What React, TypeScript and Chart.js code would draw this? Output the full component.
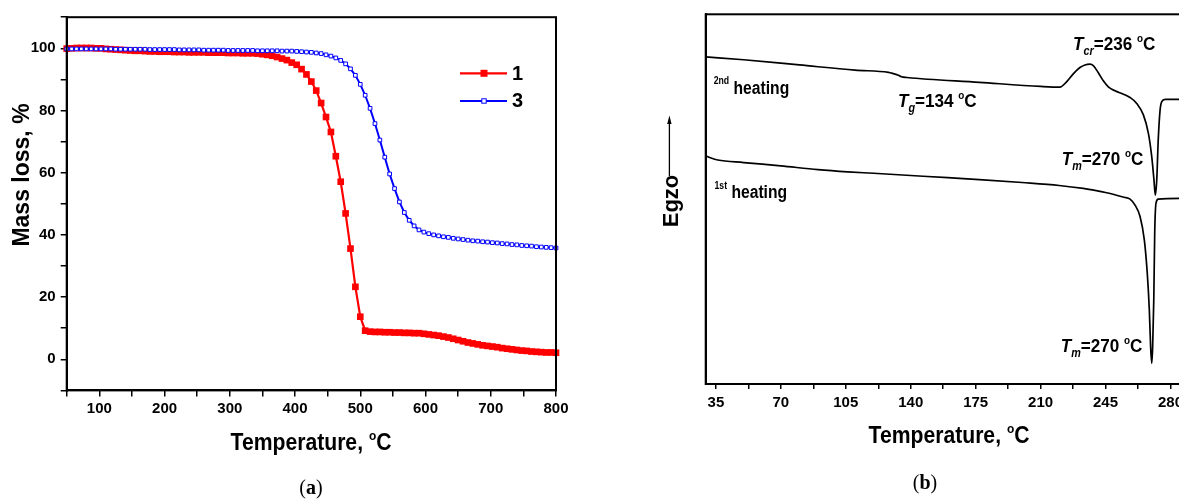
import React, { useEffect, useRef } from "react";
import { Chart, registerables } from "chart.js";
Chart.register(...registerables);

// ---------- Panel (a): TGA ----------
const tgaTemps = [
  50, 57.5, 65, 72.5, 80, 87.5, 95, 102.5, 110, 117.5,
  125, 132.5, 140, 147.5, 155, 162.5, 170, 177.5, 185, 192.5,
  200, 207.5, 215, 222.5, 230, 237.5, 245, 252.5, 260, 267.5,
  275, 282.5, 290, 297.5, 305, 312.5, 320, 327.5, 335, 342.5,
  350, 357.5, 365, 372.5, 380, 387.5, 395, 402.5, 410, 417.5,
  425, 432.5, 440, 447.5, 455, 462.5, 470, 477.5, 485, 492.5,
  500, 507.5, 515, 522.5, 530, 537.5, 545, 552.5, 560, 567.5,
  575, 582.5, 590, 597.5, 605, 612.5, 620, 627.5, 635, 642.5,
  650, 657.5, 665, 672.5, 680, 687.5, 695, 702.5, 710, 717.5,
  725, 732.5, 740, 747.5, 755, 762.5, 770, 777.5, 785, 792.5,
  800,
];
const mass1 = [
  99.9, 100.0, 100.1, 100.1, 100.1, 100.1, 100.0, 100.0, 99.8, 99.7,
  99.6, 99.5, 99.4, 99.3, 99.2, 99.2, 99.1, 99.0, 99.0, 98.9,
  98.9, 98.9, 98.8, 98.8, 98.8, 98.7, 98.7, 98.7, 98.7, 98.6,
  98.6, 98.6, 98.6, 98.5, 98.5, 98.5, 98.4, 98.4, 98.4, 98.3,
  98.1, 97.9, 97.6, 97.2, 96.7, 96.2, 95.4, 94.7, 93.3, 91.6,
  89.3, 86.4, 82.4, 77.9, 73.1, 65.3, 57.1, 46.9, 35.6, 23.3,
  13.7, 9.2, 8.9, 8.8, 8.8, 8.7, 8.7, 8.6, 8.6, 8.5,
  8.5, 8.4, 8.4, 8.2, 8.0, 7.8, 7.6, 7.3, 7.0, 6.6,
  6.2, 5.8, 5.4, 5.1, 4.8, 4.5, 4.3, 4.1, 3.9, 3.6,
  3.4, 3.2, 3.0, 2.8, 2.7, 2.5, 2.4, 2.3, 2.2, 2.2,
  2.1,
];
const mass3 = [
  99.8, 99.8, 99.8, 99.8, 99.8, 99.8, 99.8, 99.8, 99.8, 99.8,
  99.7, 99.7, 99.7, 99.7, 99.7, 99.7, 99.7, 99.6, 99.6, 99.6,
  99.6, 99.6, 99.6, 99.5, 99.5, 99.5, 99.5, 99.5, 99.4, 99.4,
  99.4, 99.4, 99.4, 99.3, 99.3, 99.3, 99.3, 99.3, 99.3, 99.2,
  99.2, 99.2, 99.2, 99.2, 99.1, 99.1, 99.1, 99.0, 98.9, 98.8,
  98.7, 98.5, 98.3, 97.9, 97.5, 96.9, 96.1, 95.0, 93.4, 91.3,
  88.4, 84.9, 80.7, 75.8, 70.5, 65.0, 59.6, 54.9, 50.6, 47.2,
  44.7, 42.9, 41.6, 40.9, 40.4, 40.0, 39.7, 39.4, 39.2, 38.9,
  38.7, 38.5, 38.3, 38.1, 38.0, 37.8, 37.7, 37.5, 37.4, 37.2,
  37.1, 36.9, 36.8, 36.6, 36.5, 36.4, 36.2, 36.1, 36.0, 35.9,
  35.8,
];
const tgaXTicks = [50, 100, 150, 200, 250, 300, 350, 400, 450, 500, 550, 600, 650, 700, 750, 800];
const tgaYTicks = [-10, 0, 10, 20, 30, 40, 50, 60, 70, 80, 90, 100, 110];
const tgaSeriesLabels = ["1", "3"];

// ---------- Panel (b): DSC ----------
const dscT2 = [
  29.5, 50, 80, 110, 128, 131, 133, 135, 138, 177,
  210, 220.4, 224.1, 227.6, 231.2, 233.9, 236.6, 238.4, 241.1, 243.8,
  246.5, 250.1, 254.6, 258.2, 261.8, 265.4, 268.1, 269.9, 271.1, 271.8,
  272.6, 273.4, 274.4, 275.3, 277.1, 285, 291.6,
];
const heat2 = [
  88.5, 87.7, 86.3, 84.9, 84.3, 83.9, 83.6, 83.1, 82.9, 81.6,
  80.5, 80.3, 81.8, 83.9, 85.6, 86.3, 86.5, 86.1, 84.2, 82.0,
  80.4, 79.3, 78.4, 77.5, 75.9, 72.8, 67.8, 61.5, 55.2, 51.1,
  55.2, 66.0, 74.1, 76.4, 77.0, 77.0, 77.0,
];
const dscT1 = [
  29.5, 32, 36, 50, 70, 90, 106, 120, 140, 160,
  177, 200, 220, 233, 240, 245, 250, 255, 258.2, 260.9,
  263.6, 265.9, 267.5, 268.6, 269.3, 269.9, 270.4, 271.0, 271.5, 272.2,
  273.4, 285, 291.6,
];
const heat1 = [
  61.7, 61.2, 60.6, 59.9, 59.0, 58.0, 57.4, 57.0, 56.4, 55.8,
  55.3, 54.5, 53.7, 52.9, 52.3, 51.8, 51.2, 50.5, 50.0, 48.4,
  45.3, 39.0, 29.9, 20.0, 10.1, 5.6, 10.1, 22.7, 40.8, 48.9,
  50.0, 50.2, 50.2,
];
const dscXTicks = [35, 52.5, 70, 87.5, 105, 122.5, 140, 157.5, 175, 192.5, 210, 227.5, 245, 262.5, 280];

const SANS = "'Liberation Sans', Arial, sans-serif";
const SERIF = "'Liberation Serif', 'Times New Roman', serif";
const TICK_FONT = { family: SANS, size: 15, weight: "bold" };

type Part = { t: string; size: number; italic?: boolean; bold?: boolean; dy?: number; family?: string };

function fontOf(p: Part) {
  return `${p.italic ? "italic " : ""}${p.bold === false ? "" : "bold "}${p.size}px ${p.family || SANS}`;
}
function measureRich(ctx: CanvasRenderingContext2D, parts: Part[]) {
  let w = 0;
  for (const p of parts) {
    ctx.font = fontOf(p);
    w += ctx.measureText(p.t).width;
  }
  return w;
}
function drawRich(ctx: CanvasRenderingContext2D, x: number, y: number, parts: Part[], sx = 1, align: "left" | "center" = "left") {
  ctx.save();
  ctx.fillStyle = "#000";
  ctx.textBaseline = "alphabetic";
  ctx.textAlign = "left";
  const w = measureRich(ctx, parts) * sx;
  ctx.translate(align === "center" ? x - w / 2 : x, y);
  ctx.scale(sx, 1);
  let cx = 0;
  for (const p of parts) {
    ctx.font = fontOf(p);
    ctx.fillText(p.t, cx, p.dy || 0);
    cx += ctx.measureText(p.t).width;
  }
  ctx.restore();
}

function PanelA() {
  const ref = useRef<HTMLCanvasElement>(null);
  useEffect(() => {
    const W = 590, H = 501;
    const L = 66.7, R = 556, T = 17.2, B = 390.4;
    const overlay = {
      id: "overlayA",
      afterDraw(chart: any) {
        const ctx: CanvasRenderingContext2D = chart.ctx;
        const a = chart.chartArea;
        ctx.save();
        ctx.strokeStyle = "#000";
        ctx.lineWidth = 2;
        ctx.strokeRect(a.left, a.top, a.right - a.left, a.bottom - a.top);
        // legend
        ctx.strokeStyle = "#ff0000";
        ctx.lineWidth = 2.2;
        ctx.beginPath();
        ctx.moveTo(460, 73.3);
        ctx.lineTo(507, 73.3);
        ctx.stroke();
        ctx.fillStyle = "#ff0000";
        ctx.fillRect(484 - 3.5, 73.3 - 3.5, 7, 7);
        ctx.strokeStyle = "#0000ff";
        ctx.lineWidth = 2;
        ctx.beginPath();
        ctx.moveTo(460, 101);
        ctx.lineTo(507, 101);
        ctx.stroke();
        ctx.fillStyle = "#fff";
        ctx.fillRect(484 - 2.2, 101 - 2.2, 4.4, 4.4);
        ctx.lineWidth = 1;
        ctx.strokeRect(484 - 2.2, 101 - 2.2, 4.4, 4.4);
        ctx.restore();
        drawRich(ctx, 512, 80, [{ t: tgaSeriesLabels[0], size: 20 }]);
        drawRich(ctx, 512, 107.3, [{ t: tgaSeriesLabels[1], size: 20 }]);
        // x title
        drawRich(ctx, 311, 450, [
          { t: "Temperature, ", size: 23 },
          { t: "o", size: 13, dy: -10 },
          { t: "C", size: 23 },
        ], 0.92, "center");
        // y title
        ctx.save();
        ctx.translate(28.5, 175);
        ctx.rotate(-Math.PI / 2);
        drawRich(ctx, 0, 0, [{ t: "Mass loss, %", size: 23 }], 1, "center");
        ctx.restore();
        // panel label
        drawRich(ctx, 311, 494, [
          { t: "(", size: 20, bold: false, family: SERIF },
          { t: "a", size: 20, family: SERIF },
          { t: ")", size: 20, bold: false, family: SERIF },
        ], 1, "center");
      },
    };
    const chart = new Chart(ref.current as HTMLCanvasElement, {
      type: "line",
      data: {
        datasets: [
          {
            label: tgaSeriesLabels[0],
            data: tgaTemps.map((t, i) => ({ x: t, y: mass1[i] })),
            borderColor: "#ff0000",
            backgroundColor: "#ff0000",
            borderWidth: 2.2,
            pointStyle: "rect",
            pointRadius: 4.7,
            pointBorderWidth: 0,
            pointBackgroundColor: "#ff0000",
            pointBorderColor: "#ff0000",
            order: 2,
            clip: false,
            tension: 0,
          } as any,
          {
            label: tgaSeriesLabels[1],
            data: tgaTemps.map((t, i) => ({ x: t, y: mass3[i] })),
            borderColor: "#0000ff",
            backgroundColor: "#ffffff",
            borderWidth: 2,
            pointStyle: "rect",
            pointRadius: 2.6,
            pointBorderWidth: 1,
            pointBackgroundColor: "#ffffff",
            pointBorderColor: "#0000ff",
            order: 1,
            clip: false,
            tension: 0,
          } as any,
        ],
      },
      options: {
        responsive: false,
        animation: false,
        events: [],
        layout: { padding: { left: 0, top: T, right: W - R, bottom: 0 } },
        plugins: { legend: { display: false }, tooltip: { enabled: false } },
        scales: {
          x: {
            type: "linear",
            min: 50,
            max: 800,
            afterBuildTicks: (s: any) => {
              s.ticks = tgaXTicks.map((v) => ({ value: v }));
            },
            afterFit: (s: any) => {
              s.height = H - B;
            },
            ticks: {
              autoSkip: false,
              maxRotation: 0,
              callback: (v: any) => (Number(v) % 100 === 0 ? String(v) : ""),
              font: TICK_FONT,
              color: "#000",
              padding: 3,
            },
            grid: { drawOnChartArea: false, drawTicks: true, tickLength: 6, color: "#000", lineWidth: 1.5 },
            border: { color: "#000", width: 2 },
          },
          y: {
            type: "linear",
            min: -10,
            max: 110,
            afterBuildTicks: (s: any) => {
              s.ticks = tgaYTicks.map((v) => ({ value: v }));
            },
            afterFit: (s: any) => {
              s.width = L;
            },
            ticks: {
              autoSkip: false,
              callback: (v: any) => (Number(v) % 20 === 0 && Number(v) >= 0 && Number(v) <= 100 ? String(v) : ""),
              font: TICK_FONT,
              color: "#000",
              padding: 5,
            },
            grid: { drawOnChartArea: false, drawTicks: true, tickLength: 6, color: "#000", lineWidth: 1.5 },
            border: { color: "#000", width: 2 },
          },
        },
      } as any,
      plugins: [overlay as any],
    });
    return () => chart.destroy();
  }, []);
  return (
    <canvas
      ref={ref}
      width={590}
      height={501}
      style={{ position: "absolute", left: 0, top: 0, width: 590, height: 501 }}
    />
  );
}

function PanelB() {
  const ref = useRef<HTMLCanvasElement>(null);
  useEffect(() => {
    const W = 620, H = 501;
    const L = 105.7, R = 592, T = 14.3, B = 384;
    const big = 19;
    const sub = 12;
    const annot = (name: string, val: string): Part[] => [
      { t: "T", size: big, italic: true },
      { t: name, size: sub, italic: true, dy: 5 },
      { t: "=" + val + " ", size: big },
      { t: "o", size: 11, dy: -8 },
      { t: "C", size: big },
    ];
    const overlay = {
      id: "overlayB",
      afterDraw(chart: any) {
        const ctx: CanvasRenderingContext2D = chart.ctx;
        const a = chart.chartArea;
        ctx.save();
        ctx.strokeStyle = "#000";
        ctx.lineWidth = 2;
        ctx.strokeRect(a.left, a.top, a.right - a.left, a.bottom - a.top);
        // Egzo arrow
        ctx.lineWidth = 1.3;
        ctx.beginPath();
        ctx.moveTo(69.4, 176);
        ctx.lineTo(69.4, 122);
        ctx.stroke();
        ctx.fillStyle = "#000";
        ctx.beginPath();
        ctx.moveTo(69.4, 115.5);
        ctx.lineTo(67.2, 124);
        ctx.lineTo(71.6, 124);
        ctx.closePath();
        ctx.fill();
        ctx.restore();
        ctx.save();
        ctx.translate(77.5, 201);
        ctx.rotate(-Math.PI / 2);
        drawRich(ctx, 0, 0, [{ t: "Egzo", size: 22 }], 1, "center");
        ctx.restore();
        // annotations
        drawRich(ctx, 473, 50, annot("cr", "236"), 0.9);
        drawRich(ctx, 298, 106.7, annot("g", "134"), 0.9);
        drawRich(ctx, 461.7, 165, annot("m", "270"), 0.9);
        drawRich(ctx, 460.7, 351.7, annot("m", "270"), 0.9);
        drawRich(ctx, 113.7, 94, [
          { t: "2nd", size: 10, dy: -10.5 },
          { t: " heating", size: 18 },
        ], 0.87);
        drawRich(ctx, 114.5, 197.7, [
          { t: "1st", size: 10, dy: -9 },
          { t: " heating", size: 18 },
        ], 0.87);
        // x title
        drawRich(ctx, 349, 443, [
          { t: "Temperature, ", size: 23 },
          { t: "o", size: 13, dy: -10 },
          { t: "C", size: 23 },
        ], 0.92, "center");
        drawRich(ctx, 325, 489, [
          { t: "(", size: 20, bold: false, family: SERIF },
          { t: "b", size: 20, family: SERIF },
          { t: ")", size: 20, bold: false, family: SERIF },
        ], 1, "center");
      },
    };
    const chart = new Chart(ref.current as HTMLCanvasElement, {
      type: "line",
      data: {
        datasets: [
          {
            label: "2nd heating",
            data: dscT2.map((t, i) => ({ x: t, y: heat2[i] })),
            borderColor: "#000",
            borderWidth: 1.7,
            pointRadius: 0,
            cubicInterpolationMode: "monotone",
            fill: false,
          } as any,
          {
            label: "1st heating",
            data: dscT1.map((t, i) => ({ x: t, y: heat1[i] })),
            borderColor: "#000",
            borderWidth: 1.7,
            pointRadius: 0,
            cubicInterpolationMode: "monotone",
            fill: false,
          } as any,
        ],
      },
      options: {
        responsive: false,
        animation: false,
        events: [],
        layout: { padding: { left: 0, top: T, right: W - R, bottom: 0 } },
        plugins: { legend: { display: false }, tooltip: { enabled: false } },
        scales: {
          x: {
            type: "linear",
            min: 29.5,
            max: 291.6,
            afterBuildTicks: (s: any) => {
              s.ticks = dscXTicks.map((v) => ({ value: v }));
            },
            afterFit: (s: any) => {
              s.height = H - B;
            },
            ticks: {
              autoSkip: false,
              maxRotation: 0,
              callback: (v: any) => (Number(v) % 35 === 0 ? String(v) : ""),
              font: TICK_FONT,
              color: "#000",
              padding: 5,
            },
            grid: { drawOnChartArea: false, drawTicks: true, tickLength: 5, color: "#000", lineWidth: 1.5 },
            border: { color: "#000", width: 2 },
          },
          y: {
            type: "linear",
            min: 0,
            max: 100,
            afterFit: (s: any) => {
              s.width = L;
            },
            ticks: { display: false },
            grid: { display: false },
            border: { color: "#000", width: 2 },
          },
        },
      } as any,
      plugins: [overlay as any],
    });
    return () => chart.destroy();
  }, []);
  return (
    <canvas
      ref={ref}
      width={620}
      height={501}
      style={{ position: "absolute", left: 600, top: 0, width: 620, height: 501 }}
    />
  );
}

export default function App() {
  return (
    <div
      style={{
        position: "fixed",
        left: 0,
        top: 0,
        width: 1179,
        height: 501,
        overflow: "hidden",
        background: "#fff",
      }}
    >
      <PanelA />
      <PanelB />
    </div>
  );
}
